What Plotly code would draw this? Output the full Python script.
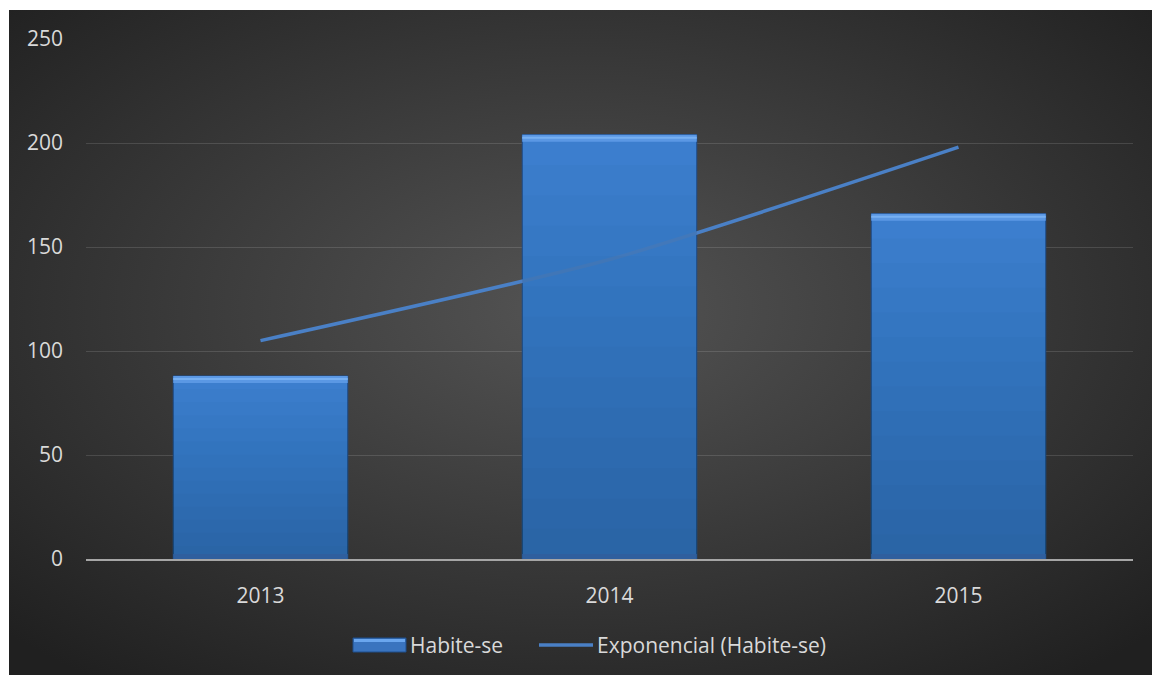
import base64
import plotly.graph_objects as go

years = ["2013", "2014", "2015"]
habite_se = [88, 204, 166]
trend_exp = [105, 144, 198]  # Exponencial (Habite-se)
y_ticks = [0, 50, 100, 150, 200, 250]

W, H = 1152, 675
L, R, T, B = 86, 1133, 39, 559
pw, ph = R - L, B - T

def px(x):
    return (x - L) / pw

def py(y):
    return (B - y) / ph

FONT = "Open Sans"
TXT = "#d9d9d9"
BAR = "#3e80d2"
FS = 21

fig = go.Figure()
fig.add_trace(go.Bar(
    x=years, y=habite_se, name="Habite-se",
    marker=dict(color=BAR, line=dict(color="#1f4e8c", width=1)),
    width=0.5, showlegend=False,
))
fig.add_trace(go.Scatter(
    x=years, y=trend_exp, mode="lines", name="Exponencial (Habite-se)",
    line=dict(color="#4a80c6", width=3.5, shape="spline", smoothing=0.6),
    showlegend=False,
))

# bevel / vertical shading on each bar, derived from data
unit = 250 / ph
shapes = []
n_layers = 14
for i, v in enumerate(habite_se):
    for k in range(1, n_layers + 1):
        shapes.append(dict(type="rect", xref="x", yref="y", x0=i - 0.25, x1=i + 0.25,
                           y0=0, y1=v * k / n_layers, fillcolor="rgba(15,35,75,0.018)",
                           line=dict(width=0), layer="above"))
    shapes.append(dict(type="rect", xref="x", yref="y", x0=i - 0.25, x1=i + 0.25,
                       y0=v - 7 * unit, y1=v, fillcolor="#5b98e4", line=dict(width=0), layer="above"))
    shapes.append(dict(type="rect", xref="x", yref="y", x0=i - 0.25, x1=i + 0.25,
                       y0=v - 4 * unit, y1=v - 2 * unit, fillcolor="#77b0f2", line=dict(width=0), layer="above"))
    shapes.append(dict(type="rect", xref="x", yref="y", x0=i - 0.25, x1=i + 0.25,
                       y0=0, y1=5 * unit, fillcolor="#2f5f9e", line=dict(width=0), layer="above"))

# custom legend
ly = 645
shapes.append(dict(type="rect", xref="paper", yref="paper", x0=px(353), x1=px(406),
                   y0=py(652), y1=py(638), fillcolor="#3a74bf", line=dict(color="#1f4e8c", width=1)))
shapes.append(dict(type="rect", xref="paper", yref="paper", x0=px(354), x1=px(405),
                   y0=py(642), y1=py(639), fillcolor="#6aa6ee", line=dict(width=0)))
shapes.append(dict(type="line", xref="paper", yref="paper", x0=px(539), x1=px(593),
                   y0=py(ly), y1=py(ly), line=dict(color="#4a80c6", width=3.5)))

annotations = [
    dict(text="Habite-se", xref="paper", yref="paper", x=px(408), y=py(ly),
         xanchor="left", yanchor="middle", showarrow=False, font=dict(family=FONT, size=FS, color=TXT)),
    dict(text="Exponencial (Habite-se)", xref="paper", yref="paper", x=px(595), y=py(ly),
         xanchor="left", yanchor="middle", showarrow=False, font=dict(family=FONT, size=FS, color=TXT)),
]

svg = ('<svg xmlns="http://www.w3.org/2000/svg" width="1143" height="665" viewBox="0 0 1143 665" '
       'preserveAspectRatio="none"><defs><radialGradient id="g" cx="50%" cy="45%" r="70%">'
       '<stop offset="0" stop-color="#545454"/><stop offset="1" stop-color="#202020"/>'
       '</radialGradient></defs><rect width="1143" height="665" fill="url(#g)"/></svg>')
src = "data:image/svg+xml;base64," + base64.b64encode(svg.encode()).decode()

fig.update_layout(
    width=W, height=H,
    margin=dict(l=L, r=W - R, t=T, b=H - B),
    paper_bgcolor="white",
    plot_bgcolor="rgba(0,0,0,0)",
    font=dict(family=FONT, size=FS, color=TXT),
    bargap=0.5,
    showlegend=False,
    shapes=shapes,
    annotations=annotations,
    images=[dict(source=src, xref="paper", yref="paper", x=px(9), y=py(10),
                 sizex=(W - 9) / pw, sizey=(H - 10) / ph, sizing="stretch",
                 xanchor="left", yanchor="top", layer="below")],
    xaxis=dict(showgrid=False, showline=True, linecolor="#a6a6a6", linewidth=2,
               ticks="", ticklabelstandoff=17, tickfont=dict(size=FS, color=TXT),
               range=[-0.5, 2.5], layer="above traces"),
    yaxis=dict(range=[0, 250], tickvals=y_ticks, showgrid=True,
               gridcolor="rgba(255,255,255,0.13)", gridwidth=1, zeroline=False,
               showline=False, ticks="", ticklabelstandoff=22,
               tickfont=dict(size=FS, color=TXT)),
)

fig.write_html("out.html")
